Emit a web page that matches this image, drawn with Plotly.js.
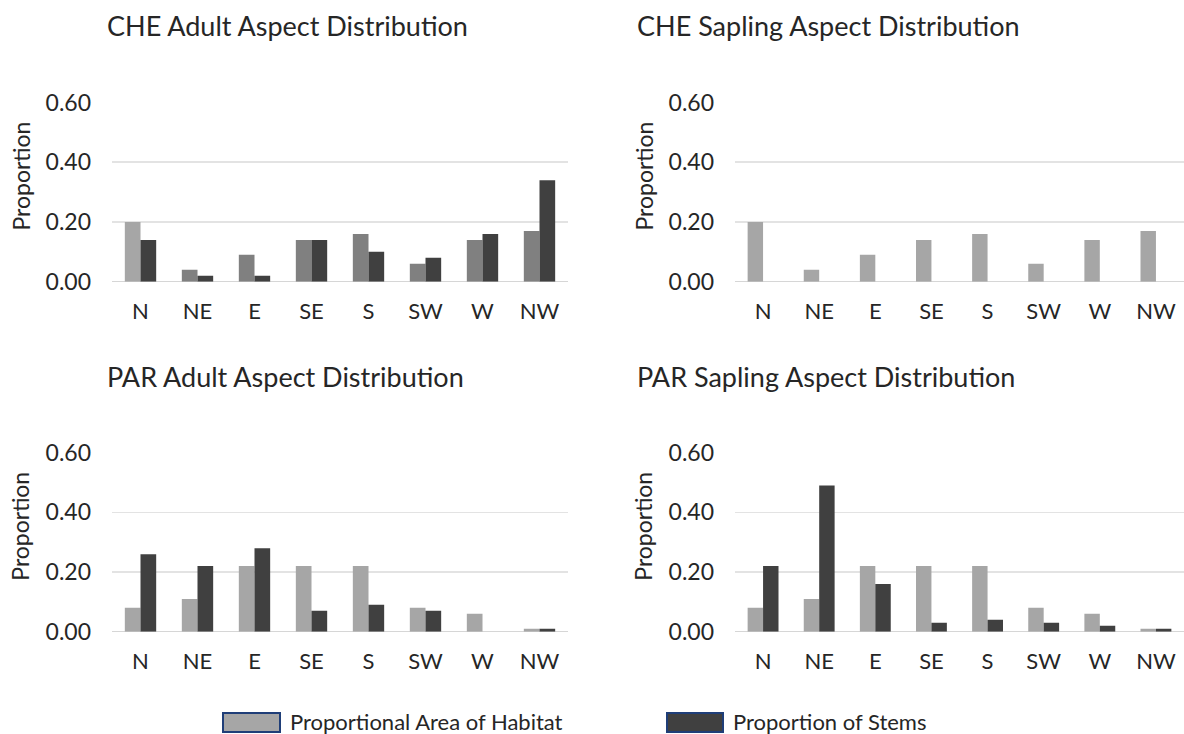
<!DOCTYPE html>
<html>
<head>
<meta charset="utf-8">
<script src="https://cdn.plot.ly/plotly-3.0.1.min.js"></script>
<style>html,body{margin:0;padding:0;background:#fff;}#chart{width:1184px;height:734px;}</style>
</head>
<body>
<div id="chart"></div>
<script>
// ---- data ----
const categories = ['N', 'NE', 'E', 'SE', 'S', 'SW', 'W', 'NW'];
const yTickValues = [0, 0.2, 0.4, 0.6];
const yTickLabels = ['0.00', '0.20', '0.40', '0.60'];

const cheAdultHabitat   = [0.20, 0.04, 0.09, 0.14, 0.16, 0.06, 0.14, 0.17];
const cheAdultStems     = [0.14, 0.02, 0.02, 0.14, 0.10, 0.08, 0.16, 0.34];
const cheSaplingHabitat = [0.20, 0.04, 0.09, 0.14, 0.16, 0.06, 0.14, 0.17];
const cheSaplingStems   = [0, 0, 0, 0, 0, 0, 0, 0];
const parAdultHabitat   = [0.08, 0.11, 0.22, 0.22, 0.22, 0.08, 0.06, 0.01];
const parAdultStems     = [0.26, 0.22, 0.28, 0.07, 0.09, 0.07, 0, 0.01];
const parSaplingHabitat = [0.08, 0.11, 0.22, 0.22, 0.22, 0.08, 0.06, 0.01];
const parSaplingStems   = [0.22, 0.49, 0.16, 0.03, 0.04, 0.03, 0.02, 0.01];

const panelTitles = ['CHE Adult Aspect Distribution', 'CHE Sapling Aspect Distribution',
                     'PAR Adult Aspect Distribution', 'PAR Sapling Aspect Distribution'];
const seriesNames = ['Proportional Area of Habitat', 'Proportion of Stems'];
const yAxisLabel = 'Proportion';

// ---- styles ----
const FONT = 'Lato, "Open Sans", sans-serif';
const TXT = '#262626';
const LIGHT = '#A6A6A6';
const MID = '#808080';
const DARK = '#404040';
const W = 1184, H = 734;

const cheAdultHabitatColors = categories.map((c, i) => i === 0 ? LIGHT : MID);

const panels = [
  {hab: cheAdultHabitat, stem: cheAdultStems, habColor: cheAdultHabitatColors},
  {hab: cheSaplingHabitat, stem: cheSaplingStems, habColor: LIGHT},
  {hab: parAdultHabitat, stem: parAdultStems, habColor: LIGHT},
  {hab: parSaplingHabitat, stem: parSaplingStems, habColor: LIGHT}
];

// pixel geometry
const xPix = [[112, 568], [735, 1184], [112, 568], [735, 1184]];
const yPix = [[102.5, 281.7], [102.5, 281.7], [452.7, 631.7], [452.7, 631.7]];
const titlePos = [[105, 25], [635, 25], [105, 376], [635, 376]];

const traces = [];
const layout = {
  width: W, height: H,
  margin: {l: 0, r: 0, t: 0, b: 0},
  paper_bgcolor: '#fff', plot_bgcolor: '#fff',
  showlegend: false,
  barmode: 'group', bargap: 0.45, bargroupgap: 0,
  font: {family: FONT, color: TXT},
  annotations: [], shapes: []
};

panels.forEach((p, k) => {
  const n = k + 1;
  const xa = 'x' + (n === 1 ? '' : n), ya = 'y' + (n === 1 ? '' : n);
  traces.push({
    type: 'bar', x: categories, y: p.hab, name: seriesNames[0],
    xaxis: xa, yaxis: ya, offsetgroup: 'a',
    marker: {color: p.habColor, line: {width: 0}},
    hoverinfo: 'x+y'
  });
  traces.push({
    type: 'bar', x: categories, y: p.stem, name: seriesNames[1],
    xaxis: xa, yaxis: ya, offsetgroup: 'b',
    marker: {color: DARK, line: {width: 0}},
    hoverinfo: 'x+y'
  });
  const xk = 'xaxis' + (n === 1 ? '' : n), yk = 'yaxis' + (n === 1 ? '' : n);
  layout[xk] = {
    domain: [xPix[k][0] / W, xPix[k][1] / W],
    anchor: ya, type: 'category', categoryorder: 'array', categoryarray: categories,
    showgrid: false, showline: false, zeroline: false, ticks: '',
    ticklabelstandoff: 14,
    tickfont: {family: FONT, size: 22, color: TXT},
    fixedrange: true
  };
  layout[yk] = {
    domain: [1 - yPix[k][1] / H, 1 - yPix[k][0] / H],
    anchor: xa, range: [0, 0.6],
    tickmode: 'array', tickvals: yTickValues, ticktext: yTickLabels,
    showgrid: true, gridcolor: '#E3E3E3', gridwidth: 1.5,
    zeroline: true, zerolinecolor: '#D6D6D6', zerolinewidth: 1.5,
    showline: false, ticks: '',
    ticklabelstandoff: 20,
    tickfont: {family: FONT, size: 23, color: TXT},
    fixedrange: true
  };
  layout.annotations.push({
    text: panelTitles[k], xref: 'paper', yref: 'paper',
    x: titlePos[k][0] / W, y: 1 - titlePos[k][1] / H,
    xanchor: 'left', yanchor: 'middle', showarrow: false,
    font: {family: FONT, size: 27, color: TXT}
  });
  layout.annotations.push({
    text: yAxisLabel, xref: 'paper', yref: 'paper', textangle: -90,
    x: (xPix[k][0] - 92) / W, y: 1 - (yPix[k][0] + 74) / H,
    xanchor: 'center', yanchor: 'middle', showarrow: false,
    font: {family: FONT, size: 23, color: TXT}
  });
});

// custom legend (boxes + labels)
const legendItems = [
  {box: [223, 713, 280, 732], color: LIGHT, textX: 288},
  {box: [667, 713, 723, 732], color: DARK, textX: 731}
];
legendItems.forEach((it, i) => {
  layout.shapes.push({
    type: 'rect', xref: 'paper', yref: 'paper',
    x0: it.box[0] / W, x1: it.box[2] / W, y0: 1 - it.box[3] / H, y1: 1 - it.box[1] / H,
    fillcolor: it.color, line: {color: '#1F3E78', width: 2}
  });
  layout.annotations.push({
    text: seriesNames[i], xref: 'paper', yref: 'paper',
    x: it.textX / W, y: 1 - 721 / H, xanchor: 'left', yanchor: 'middle', showarrow: false,
    font: {family: FONT, size: 22, color: TXT}
  });
});

Plotly.newPlot('chart', traces, layout, {displayModeBar: false, staticPlot: true});
</script>
</body>
</html>
